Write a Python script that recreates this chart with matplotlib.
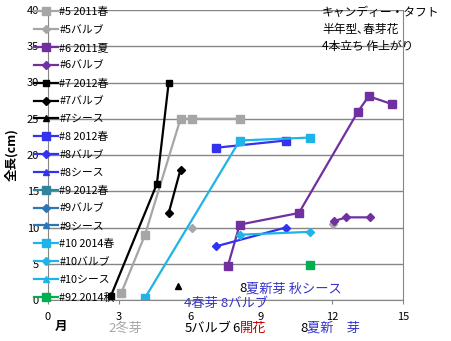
import numpy as np
import matplotlib.pyplot as plt

plt.rcParams['font.family'] = ['Noto Sans CJK JP', 'DejaVu Sans']

# data (month, length cm); nan = gap in line
s5_x = [3.1, 4.1, 5.6, 6.1, 8.1]
s5_y = [1.0, 9.0, 25.0, 25.0, 25.0]
s5b_x = [6.1, np.nan, 12.05]
s5b_y = [9.9, np.nan, 10.5]
s6_x = [7.6, 8.1, 10.6, 13.1, 13.55, 14.55]
s6_y = [4.7, 10.4, 12.0, 26.0, 28.1, 27.0]
s6b_x = [12.1, 12.6, 13.6]
s6b_y = [10.9, 11.4, 11.4]
s7_x = [2.65, 4.6, 5.1]
s7_y = [0.5, 16.0, 30.0]
s7b_x = [5.1, 5.6]
s7b_y = [12.0, 18.0]
s7s_x = [5.5]
s7s_y = [2.0]
s8_x = [7.1, 10.05]
s8_y = [21.0, 22.0]
s8b_x = [7.1, 10.05]
s8b_y = [7.4, 10.0]
s10_x = [4.1, 8.1, 11.05]
s10_y = [0.3, 22.0, 22.4]
s10b_x = [8.1, 11.05]
s10b_y = [9.0, 9.4]
s92_x = [11.05]
s92_y = [4.8]

fig = plt.figure(figsize=(4.52, 3.41), dpi=100)
ax = fig.add_axes([48/452, 1-300/341, (403-48)/452, 290/341])

grey = '#a6a6a6'
purple = '#7030a0'
blue = '#3333ee'
teal = '#31849b'
dblue = '#2e75b6'
lblue = '#1fb4e8'
green = '#00b050'

series = [
    (s5_x, s5_y, grey, 's', '#5 2011春'),
    (s5b_x, s5b_y, grey, 'D', '#5バルブ'),
    (s6_x, s6_y, purple, 's', '#6 2011夏'),
    (s6b_x, s6b_y, purple, 'D', '#6バルブ'),
    (s7_x, s7_y, 'black', 's', '#7 2012春'),
    (s7b_x, s7b_y, 'black', 'D', '#7バルブ'),
    (s7s_x, s7s_y, 'black', '^', '#7シース'),
    (s8_x, s8_y, blue, 's', '#8 2012春'),
    (s8b_x, s8b_y, blue, 'D', '#8バルブ'),
    ([], [], blue, '^', '#8シース'),
    ([], [], teal, 's', '#9 2012春'),
    ([], [], dblue, 'D', '#9バルブ'),
    ([], [], dblue, '^', '#9シース'),
    (s10_x, s10_y, lblue, 's', '#10 2014春'),
    (s10b_x, s10b_y, lblue, 'D', '#10バルブ'),
    ([], [], lblue, '^', '#10シース'),
    (s92_x, s92_y, green, 's', '#92 2014秋'),
]
for x, y, c, m, lab in series:
    ms = 6 if m == 's' else 4.5
    if lab.startswith('#7 '):
        ms = 4.5
    ax.plot(x, y, color=c, marker=m, markersize=ms, lw=1.6, label=lab)

ax.set_xlim(0, 15)
ax.set_ylim(0, 40)
ax.set_xticks([0, 3, 6, 9, 12, 15])
ax.set_yticks(range(0, 41, 5))
ax.tick_params(labelsize=8, length=3, color='#868686')
ax.tick_params(axis='x', pad=6)
ax.yaxis.grid(True, color='#868686', lw=1)
ax.set_axisbelow(True)
for sp in ['left', 'bottom', 'right']:
    ax.spines[sp].set_color('#868686')
ax.spines['top'].set_visible(False)
ax.set_ylabel('全長(cm)', fontsize=9, fontweight='bold', labelpad=6)

leg = ax.legend(loc='upper left', bbox_to_anchor=(34/452, 1-7/341), bbox_transform=fig.transFigure,
                frameon=False, fontsize=7.8, handlelength=2.2, handletextpad=0.15,
                labelspacing=0.72, borderpad=0, borderaxespad=0)

# text
fig.text(61/452, 1-326/341, '月', fontsize=9, fontweight='bold', ha='center', va='center')
fig.text(322/452, 1-6/341, 'キャンディー・タフト\n半年型､春芽花\n4本立ち 作上がり',
         fontsize=8.5, ha='left', va='top', linespacing=1.4)

blue_t = '#3333cc'
def row(xpx, ypx, parts, fs=9.5):
    # parts: list of (text, color)
    t = None
    for s, c in parts:
        if t is None:
            t = fig.text(xpx/452, 1-ypx/341, s, color=c, fontsize=fs, va='center')
        else:
            t = ax.annotate(s, xycoords=t, xy=(1, 0), va='bottom', color=c, fontsize=fs)
    return t

row(108, 328, [('2冬芽', grey)])
row(185, 328, [('5バルブ', 'black'), ('6', 'black'), ('開花', '#c00000')])
row(300, 328, [('8', 'black'), ('夏新　芽', blue_t)])
row(239, 289, [('8', 'black'), ('夏新芽 秋シース', blue_t)])
row(184, 303, [('4春芽 8バルブ', blue_t)])

fig.savefig('out.png', dpi=100)
